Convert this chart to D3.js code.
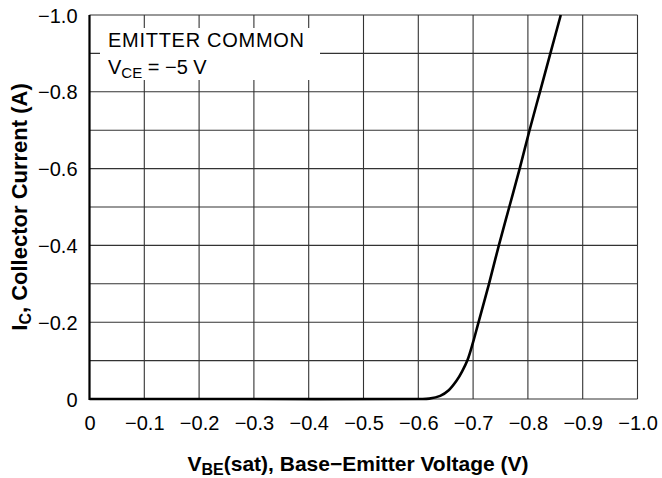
<!DOCTYPE html>
<html><head><meta charset="utf-8">
<script src="https://cdn.jsdelivr.net/npm/d3@7"></script>
<style>body{margin:0;background:#fff}svg{display:block}text{font-family:"Liberation Sans",Arial,Helvetica,sans-serif}</style>
</head><body><svg id="c" width="662" height="478"></svg>
<script>
// Data (V_BE in volts, I_C in amps; negative PNP values)
const vbe = [0, -0.3, -0.6, -0.62, -0.64, -0.655, -0.67, -0.68, -0.69, -0.70, -0.709, -0.729, -0.747, -0.766, -0.785, -0.803, -0.822, -0.841, -0.86];
const ic  = [0, 0, 0, -0.001, -0.008, -0.022, -0.048, -0.072, -0.102, -0.148, -0.195, -0.3, -0.4, -0.5, -0.6, -0.7, -0.8, -0.9, -1.0];
const xTicks = [0, -0.1, -0.2, -0.3, -0.4, -0.5, -0.6, -0.7, -0.8, -0.9, -1.0];
const xTickLabels = ["0", "\u22120.1", "\u22120.2", "\u22120.3", "\u22120.4", "\u22120.5", "\u22120.6", "\u22120.7", "\u22120.8", "\u22120.9", "\u22121.0"];
const yGrid = [0, -0.1, -0.2, -0.3, -0.4, -0.5, -0.6, -0.7, -0.8, -0.9, -1.0];
const yTicks = [0, -0.2, -0.4, -0.6, -0.8, -1.0];
const yTickLabels = ["0", "\u22120.2", "\u22120.4", "\u22120.6", "\u22120.8", "\u22121.0"];

const L = 89.5, R = 637.5, T = 15, B = 399;
const svg = d3.select("#c");
const x = d3.scaleLinear().domain([0, -1]).range([L, R]);
const y = d3.scaleLinear().domain([0, -1]).range([B, T]);

// grid
const g = svg.append("g");
g.selectAll("line.v").data(xTicks).join("line")
  .attr("x1", d => x(d)).attr("x2", d => x(d)).attr("y1", T).attr("y2", B)
  .attr("stroke", "#333").attr("stroke-width", 1.1);
g.selectAll("line.h").data(yGrid).join("line")
  .attr("y1", d => y(d)).attr("y2", d => y(d)).attr("x1", L).attr("x2", R)
  .attr("stroke", "#333").attr("stroke-width", 1.1);

// annotation box (white, hides grid)
svg.append("rect").attr("x", 100).attr("y", 28).attr("width", 220).attr("height", 52).attr("fill", "#fff");
svg.append("text").attr("x", 108).attr("y", 47).attr("font-size", 20)
  .attr("textLength", 196).attr("lengthAdjust", "spacing").text("EMITTER COMMON");
const vt = svg.append("text").attr("x", 108).attr("y", 74).attr("font-size", 20);
vt.append("tspan").text("V");
vt.append("tspan").attr("font-size", 15).attr("dy", 4).text("CE");
vt.append("tspan").attr("dy", -4).text(" = \u22125 V");

// axes lines
svg.append("line").attr("x1", L).attr("x2", L).attr("y1", T).attr("y2", B + 1)
  .attr("stroke", "#000").attr("stroke-width", 2.2);

// x axis labels via axis
const xAxis = d3.axisBottom(x).tickValues(xTicks).tickSize(0).tickPadding(0)
  .tickFormat((d, i) => xTickLabels[i]);
const xa = svg.append("g").attr("transform", `translate(0,${B})`).call(xAxis);
xa.select(".domain").remove();
xa.selectAll("text").attr("font-size", 20).attr("fill", "#000").attr("dy", null).attr("y", 31)
  .attr("font-family", '"Liberation Sans",Arial,sans-serif');

const yAxis = d3.axisLeft(y).tickValues(yTicks).tickSize(0).tickPadding(0)
  .tickFormat((d, i) => yTickLabels[i]);
const ya = svg.append("g").attr("transform", `translate(${L - 12},0)`).call(yAxis);
ya.select(".domain").remove();
ya.selectAll("text").attr("font-size", 20).attr("fill", "#000").attr("dy", "0.35em")
  .attr("font-family", '"Liberation Sans",Arial,sans-serif');

// curve
const pts = vbe.map((v, i) => [v, ic[i]]);
svg.append("path").datum(pts)
  .attr("d", d3.line().x(d => x(d[0])).y(d => y(d[1])).curve(d3.curveCatmullRom.alpha(0.5)))
  .attr("fill", "none").attr("stroke", "#000").attr("stroke-width", 2.6);

// titles
const xt = svg.append("text").attr("x", 358).attr("y", 471).attr("text-anchor", "middle")
  .attr("font-size", 21).attr("font-weight", "bold");
xt.append("tspan").text("V");
xt.append("tspan").attr("font-size", 16).attr("dy", 4).text("BE");
xt.append("tspan").attr("dy", -4).text("(sat), Base\u2212Emitter Voltage (V)");

const yt = svg.append("text").attr("transform", `translate(27,${(T + B) / 2}) rotate(-90)`)
  .attr("text-anchor", "middle").attr("font-size", 22).attr("font-weight", "bold");
yt.append("tspan").text("I");
yt.append("tspan").attr("font-size", 16).attr("dy", 4).text("C");
yt.append("tspan").attr("dy", -4).text(", Collector Current (A)");
</script></body></html>
